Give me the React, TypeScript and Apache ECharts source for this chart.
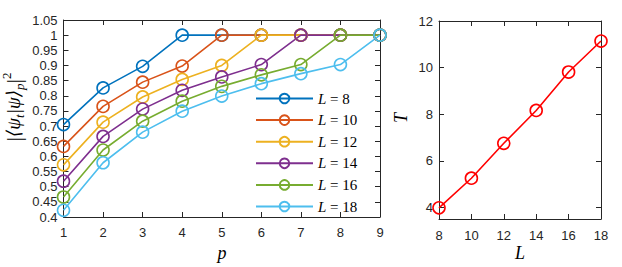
import React, { useEffect, useRef } from "react";
import * as echarts from "echarts";

const pValues = [1, 2, 3, 4, 5, 6, 7, 8, 9];
const legendLabels = ["8", "10", "12", "14", "16", "18"];
const colors = ["#0072BD", "#D95319", "#EDB120", "#7E2F8E", "#77AC30", "#4DBEEE"];
const fidL8 = [0.705, 0.826, 0.897, 1, 1, 1, 1, 1, 1];
const fidL10 = [0.633, 0.765, 0.845, 0.898, 1, 1, 1, 1, 1];
const fidL12 = [0.572, 0.713, 0.796, 0.854, 0.9, 1, 1, 1, 1];
const fidL14 = [0.518, 0.666, 0.756, 0.818, 0.862, 0.903, 1, 1, 1];
const fidL16 = [0.466, 0.621, 0.716, 0.782, 0.831, 0.869, 0.903, 1, 1];
const fidL18 = [0.422, 0.579, 0.68, 0.749, 0.799, 0.84, 0.873, 0.903, 1];
const fidSeries = [fidL8, fidL10, fidL12, fidL14, fidL16, fidL18];

const sizesL = [8, 10, 12, 14, 16, 18];
const timeT = [3.98, 5.25, 6.75, 8.16, 9.81, 11.14];
const tTicks = [4, 6, 8, 10, 12];

const AX = "#262626";
const SANS = "'Liberation Sans', Arial, Helvetica, sans-serif";
const SERIF = "'Liberation Serif', 'DejaVu Serif', 'Times New Roman', serif";

export default function App() {
  const ref = useRef<HTMLDivElement>(null);
  useEffect(() => {
    if (!ref.current) return;
    const chart = echarts.init(ref.current, null, { renderer: "svg" });
    const axisCommon = (show: boolean) => ({
      axisLine: { show: true, onZero: false, lineStyle: { color: AX, width: 1 } },
      axisTick: { show: true, inside: true, length: 5, lineStyle: { color: AX, width: 1 } },
      splitLine: { show: false },
      axisLabel: { show, color: AX, fontFamily: SANS, fontSize: 13 },
    });
    const fmt = (v: number) => String(+v.toFixed(2));
    const option: any = {
      animation: false,
      backgroundColor: "#ffffff",
      grid: [
        { left: 63.5, right: 242, top: 20, bottom: 50 },
        { left: 439, right: 21, top: 21, bottom: 48 },
      ],
      xAxis: [
        { type: "value", gridIndex: 0, min: 1, max: 9, interval: 1, position: "bottom", ...axisCommon(true),
          axisLabel: { ...axisCommon(true).axisLabel, margin: 9 } },
        { type: "value", gridIndex: 0, min: 1, max: 9, interval: 1, position: "top", ...axisCommon(false) },
        { type: "value", gridIndex: 1, min: 8, max: 18, interval: 2, position: "bottom", ...axisCommon(true),
          axisLabel: { ...axisCommon(true).axisLabel, margin: 10 } },
        { type: "value", gridIndex: 1, min: 8, max: 18, interval: 2, position: "top", ...axisCommon(false) },
      ],
      yAxis: [
        { type: "value", gridIndex: 0, min: 0.4, max: 1.05, interval: 0.05, position: "left", ...axisCommon(true),
          axisLabel: { ...axisCommon(true).axisLabel, margin: 6, formatter: fmt } },
        { type: "value", gridIndex: 0, min: 0.4, max: 1.05, interval: 0.05, position: "right", ...axisCommon(false) },
        { type: "value", gridIndex: 1, min: 3.5, max: 12, position: "left", ...axisCommon(true),
          axisTick: { ...axisCommon(true).axisTick, customValues: tTicks },
          axisLabel: { ...axisCommon(true).axisLabel, margin: 6, customValues: tTicks } },
        { type: "value", gridIndex: 1, min: 3.5, max: 12, position: "right", ...axisCommon(false),
          axisTick: { ...axisCommon(false).axisTick, customValues: tTicks } },
      ],
      legend: {
        orient: "vertical",
        left: 250,
        top: 86,
        itemWidth: 57,
        itemHeight: 12,
        itemGap: 6.6,
        itemTextGap: 5,
        textStyle: {
          fontFamily: SERIF,
          fontSize: 15,
          color: "#000",
          rich: { i: { fontFamily: SERIF, fontStyle: "italic", fontSize: 15, color: "#000" } },
        },
        formatter: (name: string) => "{i|L} = " + name.replace("L = ", ""),
        data: legendLabels.map((l) => "L = " + l),
      },
      series: [
        ...fidSeries.map((vals, i) => ({
          type: "line",
          name: "L = " + legendLabels[i],
          xAxisIndex: 0,
          yAxisIndex: 0,
          data: pValues.map((p, j) => [p, vals[j]]),
          symbol: "circle",
          symbolSize: 12,
          lineStyle: { color: colors[i], width: 1.6 },
          itemStyle: { color: "rgba(0,0,0,0)", borderColor: colors[i], borderWidth: 1.6 },
          emphasis: { disabled: true },
        })),
        {
          type: "line",
          name: "T",
          xAxisIndex: 2,
          yAxisIndex: 2,
          data: sizesL.map((l, j) => [l, timeT[j]]),
          symbol: "circle",
          symbolSize: 12,
          lineStyle: { color: "#FF0000", width: 1.6 },
          itemStyle: { color: "rgba(0,0,0,0)", borderColor: "#FF0000", borderWidth: 1.6 },
          emphasis: { disabled: true },
        },
      ],
      graphic: [
        {
          type: "text",
          x: 13,
          y: 107,
          rotation: Math.PI / 2,
          style: {
            text: "{b||}{a|⟨ψ}{s|t}{a||ψ⟩}{s|p}{b||}{u|2}",
            align: "center",
            verticalAlign: "middle",
            fill: "#000",
            rich: {
              a: { fontFamily: SERIF, fontStyle: "italic", fontSize: 19, lineHeight: 26, fill: "#000" },
              b: { fontFamily: SERIF, fontSize: 22, lineHeight: 26, fill: "#000" },
              s: { fontFamily: SERIF, fontStyle: "italic", fontSize: 13, lineHeight: 26, verticalAlign: "bottom", padding: [8, 0, 0, 0], fill: "#000" },
              u: { fontFamily: SERIF, fontSize: 13, lineHeight: 26, verticalAlign: "top", padding: [0, 0, 10, 0], fill: "#000" },
            },
          },
        },
        {
          type: "text",
          x: 222,
          y: 253,
          style: { text: "p", fontFamily: SERIF, fontStyle: "italic", fontSize: 18, align: "center", verticalAlign: "middle", fill: "#000" },
        },
        {
          type: "text",
          x: 520,
          y: 253,
          style: { text: "L", fontFamily: SERIF, fontStyle: "italic", fontSize: 18, align: "center", verticalAlign: "middle", fill: "#000" },
        },
        {
          type: "text",
          x: 401,
          y: 118,
          rotation: Math.PI / 2,
          style: { text: "T", fontFamily: SERIF, fontStyle: "italic", fontSize: 18, align: "center", verticalAlign: "middle", fill: "#000" },
        },
      ],
    };
    chart.setOption(option);
    return () => chart.dispose();
  }, []);
  return <div ref={ref} style={{ width: 622, height: 267, position: "absolute", left: 0, top: 0 }} />;
}
